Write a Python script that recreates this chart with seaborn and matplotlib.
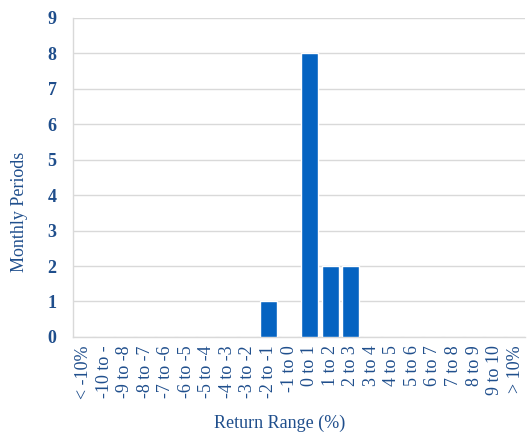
import matplotlib
matplotlib.use('Agg')
import matplotlib.pyplot as plt
import seaborn as sns
import numpy as np
import pandas as pd

# Dados do histograma
categories = ['< -10%', '-10 to -', '-9 to -8', '-8 to -7', '-7 to -6', '-6 to -5',
              '-5 to -4', '-4 to -3', '-3 to -2', '-2 to -1', '-1 to 0', '0 to 1',
              '1 to 2', '2 to 3', '3 to 4', '4 to 5', '5 to 6', '6 to 7', '7 to 8',
              '8 to 9', '9 to 10', '> 10%']
counts = [0, 0, 0, 0, 0, 0, 0, 0, 0, 1, 0, 8, 2, 2, 0, 0, 0, 0, 0, 0, 0, 0]

sns.set_style('white')
plt.rcParams['font.family'] = ['Liberation Serif', 'DejaVu Serif']
text_color = '#1f4e8c'
bar_color = '#0563c1'
grid_color = '#d9d9d9'

df = pd.DataFrame({'range': categories, 'count': counts})

fig = plt.figure(figsize=(5.27, 4.37), dpi=100)
ax = fig.add_axes([0.139, 0.229, 0.858, 0.73])

sns.barplot(data=df, x='range', y='count', color=bar_color, width=0.82,
            saturation=1, ax=ax, zorder=3)

ax.set_ylim(0, 9)
ax.set_yticks(range(0, 10))
ax.set_xlim(-0.5, len(categories) - 0.5)
ax.yaxis.grid(True, color=grid_color, linewidth=1, zorder=0)
ax.xaxis.grid(False)

for side in ['top', 'right']:
    ax.spines[side].set_visible(False)
for side in ['left', 'bottom']:
    ax.spines[side].set_color(grid_color)
    ax.spines[side].set_linewidth(1)

# Marcas do eixo x entre categorias (estilo Excel)
ax.set_xticks(np.arange(len(categories)))
ax.set_xticklabels(categories, rotation=90, fontsize=13, color=text_color)
ax.set_xticks(np.arange(-0.5, len(categories)), minor=True)
ax.tick_params(axis='x', which='major', length=0, pad=6)
ax.tick_params(axis='x', which='minor', length=5, color=grid_color, width=1)
ax.tick_params(axis='y', which='major', length=5, color=grid_color, width=1,
               labelsize=13, labelcolor=text_color, pad=7)
for lbl in ax.get_yticklabels():
    lbl.set_fontweight('bold')

ax.set_xlabel('Return Range (%)', fontsize=13, color=text_color)
ax.set_ylabel('Monthly Periods', fontsize=13, color=text_color)
ax.xaxis.set_label_coords(0.457, -0.245)
ax.yaxis.set_label_coords(-0.099, 0.392)

fig.savefig('out.png', dpi=100)
plt.close(fig)
